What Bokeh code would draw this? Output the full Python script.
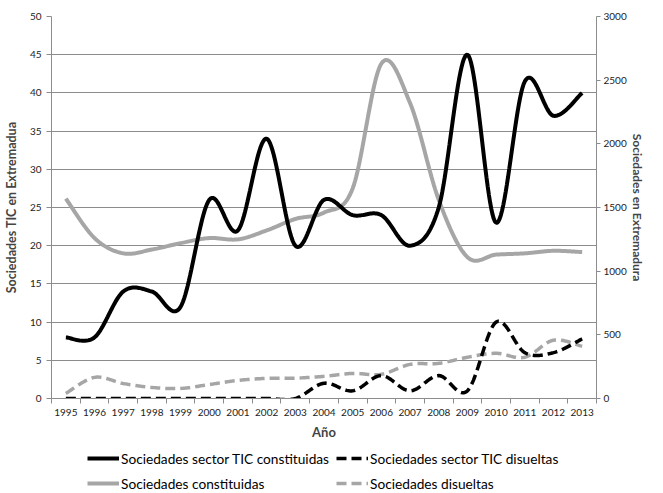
import numpy as np
from bokeh.plotting import figure
from bokeh.layouts import column
from bokeh.models import (Range1d, LinearAxis, FixedTicker, Legend, LegendItem)
from bokeh.embed import file_html
from bokeh.resources import INLINE

years = [str(y) for y in range(1995, 2014)]
tic_constituidas = [8, 8, 14, 14, 12, 26, 22, 34, 20, 26, 24, 24, 20, 25, 45, 23, 41.5, 37, 40]
tic_disueltas = [0, 0, 0, 0, 0, 0, 0, 0, 0, 2, 1, 3, 1, 3, 1, 10, 6, 6, 7.8]
soc_constituidas = [1570, 1260, 1140, 1170, 1220, 1260, 1250, 1320, 1410, 1460, 1650, 2630, 2320, 1560, 1110, 1130, 1140, 1160, 1150]
soc_disueltas = [40, 166, 118, 87, 79, 110, 142, 158, 160, 174, 197, 190, 268, 276, 324, 355, 324, 458, 410]

left_ticks = list(range(0, 55, 5))
right_ticks = list(range(0, 3500, 500))

FONT = "Lato"
GRID = "#8c8c8c"
GRAY = "#a6a6a6"


def smooth(ys, n=24):
    xs = np.arange(len(ys), dtype=float)
    ys = np.asarray(ys, dtype=float)
    P = np.stack([xs, ys], axis=1)
    out = []
    for i in range(len(P) - 1):
        p0 = P[i - 1] if i > 0 else P[i]
        p1 = P[i]
        p2 = P[i + 1]
        p3 = P[i + 2] if i + 2 < len(P) else P[i + 1]
        c1 = p1 + (p2 - p0) / 6.0
        c2 = p2 - (p3 - p1) / 6.0
        t = np.linspace(0, 1, n, endpoint=(i == len(P) - 2))[:, None]
        seg = ((1 - t) ** 3) * p1 + 3 * ((1 - t) ** 2) * t * c1 + 3 * (1 - t) * t ** 2 * c2 + t ** 3 * p2
        out.append(seg)
    out = np.concatenate(out)
    return out[:, 0], out[:, 1]


p = figure(width=647, height=444, output_backend="svg", toolbar_location=None,
           x_range=Range1d(-0.5, len(years) - 0.5), y_range=Range1d(0, 50),
           min_border_left=44, min_border_right=44, min_border_top=16, min_border_bottom=46)
p.extra_y_ranges = {"right": Range1d(0, 3000)}
p.outline_line_color = None
p.background_fill_color = "white"

# grid
p.xgrid.grid_line_color = None
p.ygrid.grid_line_color = GRID
p.ygrid.grid_line_width = 1
p.ygrid.ticker = FixedTicker(ticks=left_ticks)

# x axis
xa = p.xaxis[0]
xa.ticker = FixedTicker(ticks=list(range(len(years))), minor_ticks=[i - 0.5 for i in range(len(years) + 1)])
xa.major_label_overrides = {i: y for i, y in enumerate(years)}
xa.major_tick_line_color = None
xa.major_tick_out = 5
xa.major_tick_in = 0
xa.minor_tick_line_color = GRID
xa.minor_tick_out = 5
xa.minor_tick_in = 0
xa.axis_line_color = GRID
xa.major_label_text_font = FONT
xa.major_label_text_font_size = "10px"
xa.major_label_text_color = "#222222"
xa.major_label_standoff = 5
xa.axis_label = "Año"
xa.axis_label_text_font = FONT
xa.axis_label_text_font_style = "bold"
xa.axis_label_text_font_size = "13px"
xa.axis_label_standoff = 5

# left axis
ya = p.yaxis[0]
ya.ticker = FixedTicker(ticks=left_ticks)
ya.minor_tick_line_color = None
ya.major_tick_line_color = GRID
ya.major_tick_out = 5
ya.major_tick_in = 0
ya.axis_line_color = GRID
ya.major_label_text_font = FONT
ya.major_label_text_font_size = "10px"
ya.major_label_text_color = "#222222"
ya.axis_label = "Sociedades TIC en Extremadua"
ya.axis_label_text_font = FONT
ya.axis_label_text_font_style = "bold"
ya.axis_label_text_font_size = "12.5px"
ya.axis_label_standoff = 8

# right axis
ra = LinearAxis(y_range_name="right", ticker=FixedTicker(ticks=right_ticks))
ra.minor_tick_line_color = None
ra.major_tick_line_color = GRID
ra.major_tick_out = 4
ra.major_tick_in = 0
ra.axis_line_color = GRID
ra.major_label_text_font = FONT
ra.major_label_text_font_size = "10px"
ra.major_label_text_color = "#222222"
ra.major_label_standoff = 3
ra.axis_label = "Sociedades en Extremadura"
ra.axis_label_text_font = FONT
ra.axis_label_text_font_style = "bold"
ra.axis_label_text_font_size = "12px"
ra.axis_label_standoff = 0
p.add_layout(ra, "right")

# lines
x1, y1 = smooth(soc_constituidas)
p.line(x1, y1, y_range_name="right", line_color=GRAY, line_width=4)
x2, y2 = smooth(soc_disueltas)
p.line(x2, y2, y_range_name="right", line_color=GRAY, line_width=3.5, line_dash="10 5")
x3, y3 = smooth(tic_disueltas)
p.line(x3, y3, line_color="black", line_width=3.5, line_dash="10 5")
x4, y4 = smooth(tic_constituidas)
p.line(x4, y4, line_color="black", line_width=4)

# legend figure (its frame is aligned with the main frame by the column layout)
q = figure(width=647, height=48, output_backend="svg", toolbar_location=None,
           x_range=Range1d(0, 647), y_range=Range1d(0, 48),
           x_axis_location=None, y_axis_location=None,
           min_border_left=0, min_border_right=0, min_border_top=0, min_border_bottom=0)
q.grid.grid_line_color = None
q.outline_line_color = None
off = [-100, -99]
l_tc = q.line(off, off, line_color="black", line_width=4)
l_td = q.line(off, off, line_color="black", line_width=3.5, line_dash="10 5")
l_sc = q.line(off, off, line_color=GRAY, line_width=4)
l_sd = q.line(off, off, line_color=GRAY, line_width=3.5, line_dash="10 5")

legend = Legend(items=[
    LegendItem(label="Sociedades sector TIC constituidas", renderers=[l_tc]),
    LegendItem(label="Sociedades constituidas", renderers=[l_sc]),
    LegendItem(label="Sociedades sector TIC disueltas", renderers=[l_td]),
    LegendItem(label="Sociedades disueltas", renderers=[l_sd]),
], ncols=2, location=(36, 0))
legend.label_text_font = FONT
legend.label_text_font_size = "13.7px"
legend.label_text_color = "black"
legend.glyph_width = 32
legend.glyph_height = 18
legend.label_height = 18
legend.label_standoff = 2
legend.spacing = 7
legend.border_line_color = None
legend.background_fill_alpha = 0
legend.padding = 0
legend.margin = 0
q.add_layout(legend)

open("out.html", "w").write(file_html(column(p, q), INLINE))
